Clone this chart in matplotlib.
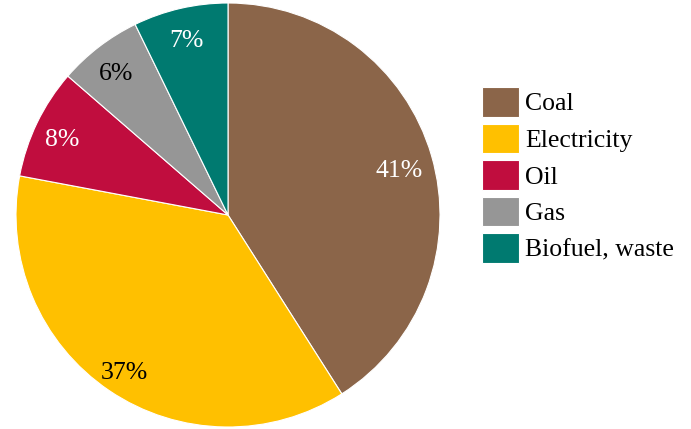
import numpy as np
import matplotlib as mpl
from matplotlib import pyplot as plt

mpl.rcParams['font.family'] = ['Liberation Serif', 'DejaVu Serif']

# energy shares (%), clockwise from top
sources = ['Coal', 'Electricity', 'Oil', 'Gas', 'Biofuel, waste']
shares = [40.9, 36.9, 8.4, 6.4, 7.2]
colors = ['#8B6549', '#FFC000', '#C00D3E', '#969696', '#007A70']
label_colors = ['white', 'black', 'white', 'black', 'white']
# radial position of each percentage label (fraction of radius)
label_radius = [0.84, 0.87, 0.87, 0.87, 0.87]

fig = plt.figure(figsize=(6.91, 4.29), dpi=100)
ax = fig.add_axes([16 / 691, 2 / 429, 424 / 691, 424 / 429])

wedges, texts, autotexts = ax.pie(
    shares, colors=colors, startangle=90, counterclock=False,
    autopct='%.0f%%', pctdistance=0.87,
    wedgeprops={'edgecolor': 'white', 'linewidth': 0.8},
    textprops={'fontsize': 18.5})
for w, t, c, r in zip(wedges, autotexts, label_colors, label_radius):
    mid = np.deg2rad((w.theta1 + w.theta2) / 2)
    t.set_position((r * np.cos(mid), r * np.sin(mid) - 0.025))
    t.set_color(c)
ax.set_xlim(-1, 1)
ax.set_ylim(-1, 1)

fig.legend(wedges, sources, loc='center left',
           bbox_to_anchor=(482 / 691, 1 - 175 / 429),
           frameon=False, fontsize=18.5, borderpad=0, borderaxespad=0,
           handlelength=1.44, handleheight=1.4, handletextpad=0.25,
           labelspacing=0.27)

plt.savefig('out.png', dpi=100)
